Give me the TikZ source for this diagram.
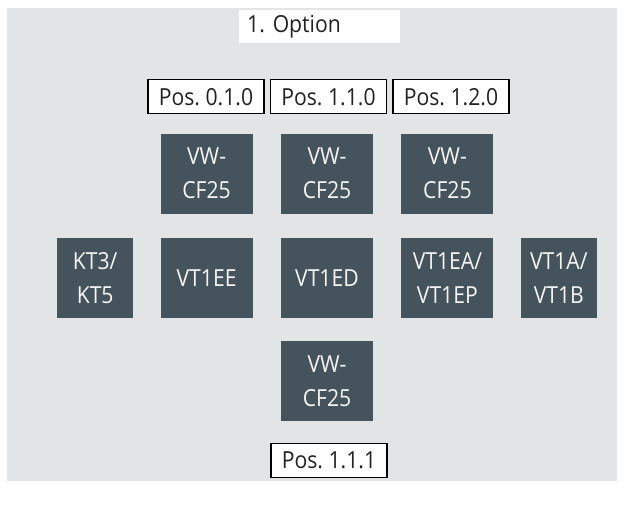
\documentclass[tikz,border=0pt]{standalone}
\usepackage{fontspec}
\setmainfont[FakeStretch=0.9]{Open Sans}
\usepackage{tikz}
\usetikzlibrary{positioning}

\definecolor{panelgrey}{HTML}{E3E4E6}
\definecolor{unitslate}{HTML}{45535D}
\definecolor{labelink}{HTML}{222222}

\begin{document}
\frenchspacing
\begin{tikzpicture}[
    x=1pt, y=-1pt,
    node distance=24pt and 28pt,
    every node/.style={font=\fontsize{23.5}{34}\selectfont},
    unit/.style={fill=unitslate, text=white!96!black, minimum width=92pt, minimum height=80pt, inner sep=0pt, align=center},
    sideunit/.style={unit, minimum width=76pt},
    poslabel/.style={draw=black, line width=1.5pt, fill=white, text=labelink, minimum width=116pt, minimum height=34pt, inner sep=0pt},
    optiontitle/.style={fill=white, text=labelink, text width=145pt, minimum height=33pt, inner xsep=8pt, inner ysep=0pt, align=left}
]
\useasboundingbox (0,0) rectangle (625,507);
\fill[panelgrey] (7,8) rectangle (617,481);

\node[optiontitle, anchor=north west] (title) at (239,10) {1. Option};

% middle row
\node[unit] (vt1ed) at (327,278) {VT1ED};
\node[unit, left=of vt1ed] (vt1ee) {VT1EE};
\node[unit, right=of vt1ed] (vt1ea) {VT1EA/\\VT1EP};
\node[sideunit, left=27pt of vt1ee] (kt3) {KT3/\\KT5};
\node[sideunit, right=27pt of vt1ea] (vt1a) {VT1A/\\VT1B};

% top row
\node[unit, above=of vt1ee] (cfa) {VW-\\CF25};
\node[unit, above=of vt1ed] (cfb) {VW-\\CF25};
\node[unit, above=of vt1ea] (cfc) {VW-\\CF25};

% bottom
\node[unit, below=23pt of vt1ed] (cfd) {VW-\\CF25};

% positions
\node[poslabel, above=19pt of cfb, xshift=1.5pt] (pos110) {Pos. 1.1.0};
\node[poslabel, left=5pt of pos110] (pos010) {Pos. 0.1.0};
\node[poslabel, right=5pt of pos110] (pos120) {Pos. 1.2.0};
\node[poslabel, below=21pt of cfd, xshift=2pt] (pos111) {Pos. 1.1.1};
\end{tikzpicture}
\end{document}
